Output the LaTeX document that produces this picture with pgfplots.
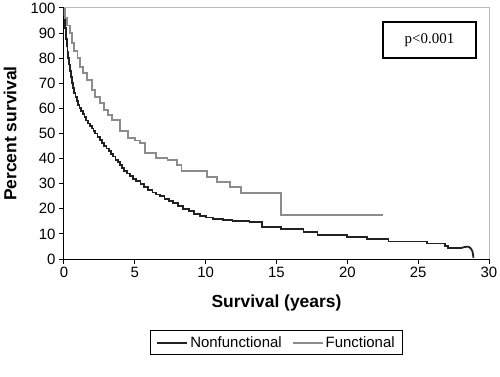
\documentclass[border=0pt]{standalone}
\usepackage{pgfplots}
\pgfplotsset{compat=1.18}
\usepackage{fontspec}
\setmainfont{Liberation Sans}
\newfontfamily\timesf{Liberation Serif}
\definecolor{darkline}{HTML}{222222}
\definecolor{greyline}{HTML}{8C8C8C}
\definecolor{framegrey}{HTML}{BBBBBB}
\begin{document}
\begin{tikzpicture}
\begin{axis}[
  name=ax,
  scale only axis,
  width=425bp, height=251bp,
  xmin=0, xmax=30, ymin=0, ymax=100,
  xtick={0,5,...,30}, ytick={0,10,...,100},
  axis x line*=bottom, axis y line*=left,
  axis line style={black, line width=1bp, -},
  tick style={black, line width=1bp},
  tick align=outside,
  major tick length=5bp,
  /pgf/number format/assume math mode=true,
  ticklabel style={font=\fontsize{15}{18}\selectfont},
  xlabel={Survival (years)},
  ylabel={Percent survival},
  xlabel style={font=\bfseries\fontsize{17.5}{20}\selectfont, at={(axis description cs:0.5,-0.1952)}, anchor=base},
  ylabel style={font=\bfseries\fontsize{17.5}{20}\selectfont, at={(axis description cs:-0.1035,0.5)}, anchor=south, rotate=0},
  legend columns=2,
  legend style={at={(0.5,-0.333)}, anchor=center, draw=black, line width=1.2bp,
    font=\fontsize{15}{18}\selectfont, inner xsep=6bp, inner ysep=4bp,
    /tikz/every even column/.append style={column sep=8bp}},
  legend image code/.code={\draw[#1, line width=2bp] (0bp,0bp) -- (30bp,0bp);},
  clip=false,
]
\addplot[const plot, darkline, line width=1.8bp] coordinates {
(0,100) (0.02,97) (0.05,94) (0.08,92) (0.12,90) (0.16,87.5) (0.2,85) (0.25,82.5)
(0.3,80) (0.36,77.5) (0.42,75) (0.48,72.5) (0.54,70) (0.63,68) (0.72,66) (0.81,64.5)
(0.9,63) (1.0,61.5) (1.1,60.2) (1.2,59) (1.33,57.7) (1.45,56.5) (1.58,55.2) (1.7,54)
(1.83,53) (1.95,52) (2.08,51) (2.2,50) (2.37,48.7) (2.54,47.4) (2.7,46.2) (2.85,45.1)
(3.0,44) (3.16,42.9) (3.32,41.8) (3.48,40.8) (3.64,39.6) (3.8,38.5) (3.95,37.4)
(4.1,36.3) (4.26,35.2) (4.42,34.1) (4.65,33) (4.88,32) (5.1,31) (5.4,29.8) (5.65,28.6)
(5.95,27.5) (6.25,26.5) (6.5,25.7) (6.8,25) (7.1,24) (7.4,23.1) (7.7,22.2) (8.05,21.1)
(8.4,20) (8.8,19) (9.2,18) (9.6,17.1) (10.0,16.5) (10.5,16) (11.2,15.5) (11.9,15)
(13.1,14.6) (13.95,12.9) (15.3,11.9) (16.9,10.9) (17.9,9.6) (20.0,8.8) (21.4,8.0)
(22.9,7.0) (25.6,6.2) (26.9,5.3) (27.1,4.3) (28.0,4.3)
};
\addlegendentry{Nonfunctional}
\addplot[const plot, greyline, line width=1.8bp] coordinates {
(0,100) (0.05,96) (0.2,93) (0.42,90) (0.55,86) (0.73,83) (0.95,80) (1.13,76.5)
(1.35,74) (1.6,71.3) (1.95,67.3) (2.2,64.5) (2.54,62) (2.8,59.4) (3.1,57.3)
(3.4,55.4) (3.95,51) (4.5,48.2) (5.0,47.2) (5.36,46.1) (5.7,42.2) (6.5,40.2)
(7.3,39.4) (8.0,37.5) (8.3,35.2) (10.1,32.8) (10.8,30.8) (11.7,28.8) (12.5,26.4)
(15.3,17.5) (22.5,17.5)
};
\addlegendentry{Functional}
\addplot[smooth, darkline, line width=1.8bp, forget plot] coordinates {
(28.0,4.3) (28.3,4.8) (28.6,4.8) (28.82,3.2) (28.9,0.5)
};
\draw[framegrey, line width=1bp] (rel axis cs:0,1) -- (rel axis cs:1,1) -- (rel axis cs:1,0);
\node[draw=black, line width=1.2bp, minimum width=93bp, minimum height=36bp,
  font=\timesf\fontsize{15}{18}\selectfont] at (rel axis cs:0.86,0.8725) {p<0.001};
\end{axis}
\pgfresetboundingbox
\useasboundingbox ([shift={(-64bp,-118bp)}]ax.south west) rectangle ([shift={(11bp,8bp)}]ax.north east);
\end{tikzpicture}
\end{document}
